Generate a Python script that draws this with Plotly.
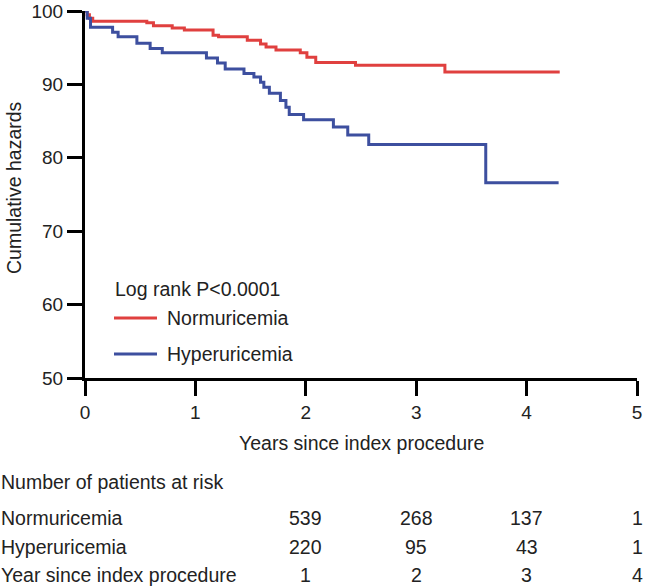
import plotly.graph_objects as go

# ---------------- data ----------------
normo_t = [0, 0.02, 0.04, 0.07, 0.56, 0.62, 0.79, 0.90, 1.16, 1.21, 1.47, 1.59, 1.64,
           1.73, 1.95, 2.01, 2.09, 2.45, 3.26, 4.30]
normo_v = [100, 99.5, 99.0, 98.6, 98.4, 98.0, 97.7, 97.4, 96.7, 96.5, 96.0, 95.5, 95.1,
           94.7, 94.3, 93.7, 93.0, 92.6, 91.7, 91.7]

hyper_t = [0, 0.02, 0.05, 0.25, 0.30, 0.47, 0.59, 0.70, 1.10, 1.20, 1.27, 1.44, 1.53,
           1.59, 1.62, 1.67, 1.77, 1.82, 1.85, 1.98, 2.25, 2.38, 2.57, 3.63, 4.29]
hyper_v = [100, 99.0, 97.8, 97.1, 96.5, 95.6, 94.9, 94.3, 93.6, 92.9, 92.1, 91.5, 91.0,
           90.3, 89.6, 88.8, 87.8, 86.9, 85.9, 85.2, 84.2, 83.1, 81.8, 76.6, 76.6]

x_ticks = [0, 1, 2, 3, 4, 5]
y_ticks = [50, 60, 70, 80, 90, 100]

risk_years = [1, 2, 3, 4]
risk_normo = [539, 268, 137, 1]
risk_hyper = [220, 95, 43, 1]

# ---------------- style ----------------
RED = "#e0403f"
BLUE = "#3d4f9f"
TXT = "#222222"
FONT = "Liberation Sans, Arial, Helvetica, sans-serif"
FS = 19.5
TFS = 19

W, H = 645, 586
L, R, T, B = 85, 8, 11, 208
PW, PH = W - L - R, H - T - B


def px(xp):
    return (xp - L) / PW


def py(yp):
    return (H - B - yp) / PH


fig = go.Figure()
fig.add_trace(go.Scatter(x=normo_t, y=normo_v, mode="lines", name="Normuricemia",
                         line=dict(color=RED, width=3, shape="hv"), cliponaxis=False))
fig.add_trace(go.Scatter(x=hyper_t, y=hyper_v, mode="lines", name="Hyperuricemia",
                         line=dict(color=BLUE, width=3, shape="hv"), cliponaxis=False))

ann = []
# axis titles
ann.append(dict(text="Years since index procedure", x=2.5, xref="x", y=py(443), yref="paper",
                showarrow=False, xanchor="center", yanchor="middle", font=dict(size=FS)))
ann.append(dict(text="Cumulative hazards", x=px(14), xref="paper", y=py(188), yref="paper",
                showarrow=False, textangle=-90, xanchor="center", yanchor="middle",
                font=dict(size=FS)))
# legend
ann.append(dict(text="Log rank P<0.0001", x=px(113), xref="paper", y=py(289), yref="paper",
                showarrow=False, xanchor="left", yanchor="middle", font=dict(size=FS)))
for name, color, yp in [("Normuricemia", RED, 318), ("Hyperuricemia", BLUE, 354)]:
    ann.append(dict(text=name, x=px(165), xref="paper", y=py(yp), yref="paper",
                    showarrow=False, xanchor="left", yanchor="middle", font=dict(size=FS)))
    fig.add_shape(type="line", xref="paper", yref="paper", x0=px(114), x1=px(157),
                  y0=py(yp), y1=py(yp), line=dict(color=color, width=3))

# risk table
rows = [("Number of patients at risk", None, 482),
        ("Normuricemia", risk_normo, 518),
        ("Hyperuricemia", risk_hyper, 547),
        ("Year since index procedure", risk_years, 575)]
for label, vals, yp in rows:
    ann.append(dict(text=label, x=px(-1), xref="paper", y=py(yp), yref="paper",
                    showarrow=False, xanchor="left", yanchor="middle", font=dict(size=FS)))
    if vals:
        for yr, v in zip(risk_years, vals):
            # columns sit under x ticks 2..5 in the reference
            ann.append(dict(text=str(v), x=yr + 1, xref="x", y=py(yp), yref="paper",
                            showarrow=False, xanchor="center", yanchor="middle",
                            font=dict(size=FS)))

axis_common = dict(showgrid=False, zeroline=False, automargin=False,
                   showline=True, linecolor="black", linewidth=3,
                   ticks="outside", ticklen=15, tickwidth=3, tickcolor="black",
                   tickfont=dict(size=TFS, color=TXT))

fig.update_layout(
    width=W, height=H,
    margin=dict(l=L, r=R, t=T, b=B, autoexpand=False),
    paper_bgcolor="white", plot_bgcolor="white",
    font=dict(family=FONT, size=FS, color=TXT),
    showlegend=False,
    annotations=ann,
    xaxis=dict(range=[0, 5], tickvals=x_ticks, **axis_common),
    yaxis=dict(range=[50, 100], tickvals=y_ticks, **axis_common),
)

fig.write_html(
    "out.html",
    config={"displayModeBar": False, "staticPlot": True},
    post_script="document.body.style.margin='0';document.body.style.overflow='hidden';",
)
